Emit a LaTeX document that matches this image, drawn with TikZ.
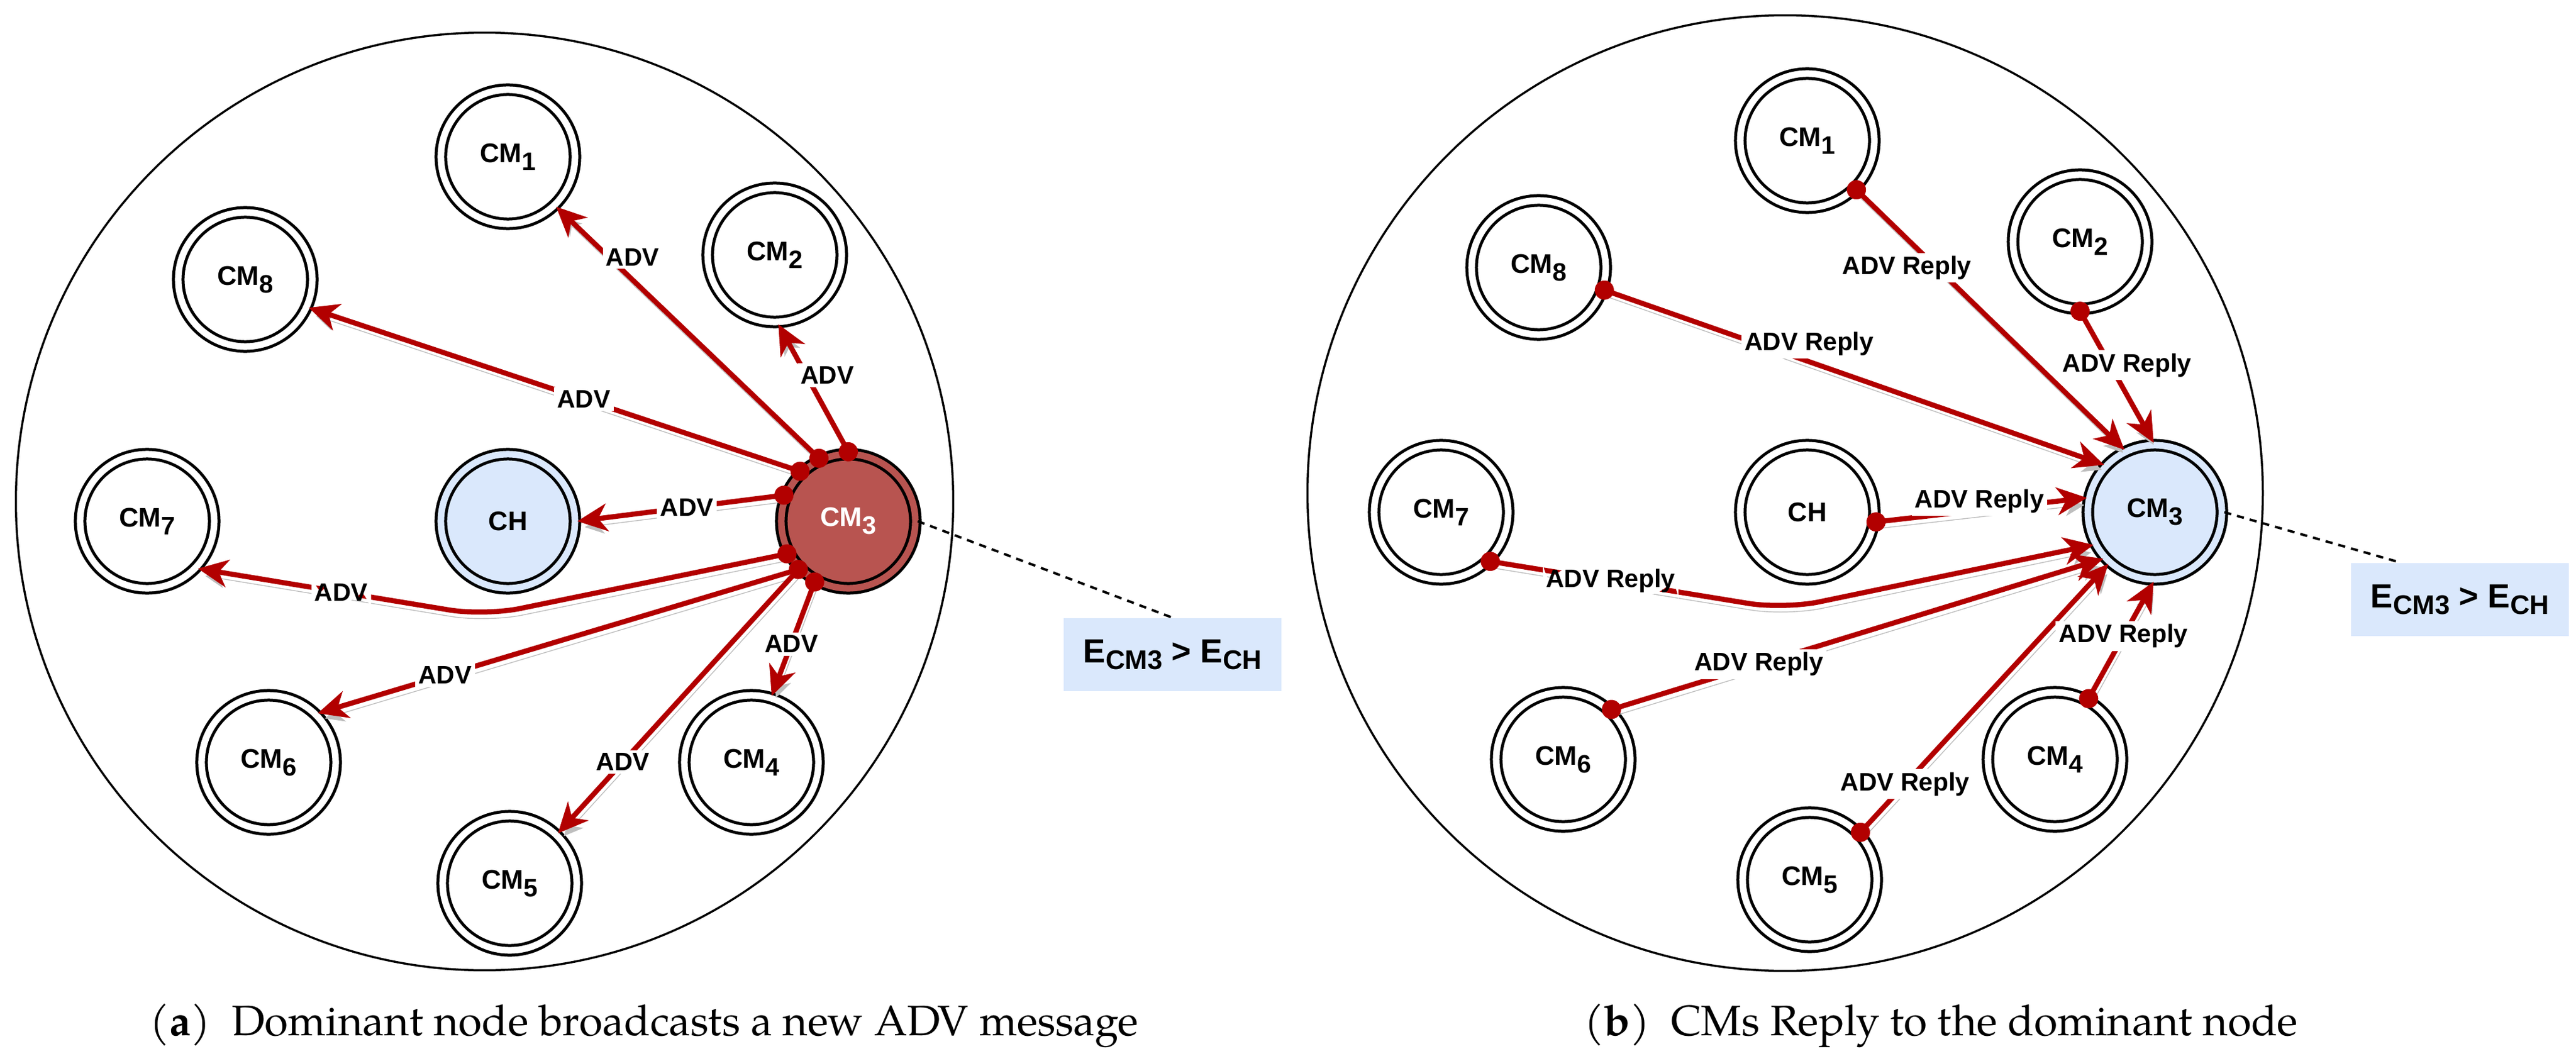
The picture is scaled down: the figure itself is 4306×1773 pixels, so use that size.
\documentclass[tikz,border=0pt]{standalone}
\usepackage{fontspec}
\newfontfamily\labelfont{Liberation Sans}
\newfontfamily\capfamily{TeX Gyre Pagella}
\usetikzlibrary{arrows.meta,calc}

\definecolor{advred}{HTML}{B20000}
\definecolor{headred}{HTML}{B85450}
\definecolor{chblue}{HTML}{DAE8FC}
\definecolor{shade}{HTML}{BEBEBE}

\newcommand{\capfont}{\capfamily\fontsize{20.3}{24}\selectfont}
\newcommand{\cmsub}[1]{CM\raisebox{-0.13cm}{\fontsize{12}{12}\selectfont #1}}
\newcommand{\esub}[1]{E\raisebox{-0.11cm}{\fontsize{12.8}{13}\selectfont #1}}

\tikzset{
  cmnode/.style={circle, draw=black, line width=0.05cm, double=white,
    double distance=0.11cm, minimum size=2.24cm, inner sep=0pt, outer sep=0.04cm,
    font=\labelfont\bfseries\fontsize{12.8}{14}\selectfont},
  chnode/.style={cmnode, fill=chblue, double=chblue},
  headnode/.style={cmnode, fill=headred, double=headred, text=white},
  cluster/.style={draw=black, line width=0.035cm},
  msg/.style={draw=advred, line width=0.085cm,
    -{Stealth[length=0.5cm,width=0.46cm,inset=0.15cm]},
    preaction={draw=shade, transform canvas={xshift=0.4mm,yshift=-1.1mm}}},
  lbl/.style={fill=white, inner sep=1.5pt,
    font=\labelfont\bfseries\fontsize{12}{14}\selectfont},
  ebox/.style={fill=chblue, minimum width=3.64cm, minimum height=1.22cm, inner sep=0pt,
    font=\labelfont\bfseries\fontsize{15.9}{18}\selectfont},
  link/.style={draw=black, line width=0.04cm, dash pattern=on 0.12cm off 0.1cm},
}

\begin{document}
\begin{tikzpicture}[x=0.01cm, y=-0.01cm]
   % Sizes
   \pgfmathsetmacro{\dotr}{0.16}
   \useasboundingbox (0,0) rectangle (4306,1773);

   % clusters
   \draw[cluster] (810,838) circle[radius=7.83cm];
   \draw[cluster] (2984,824) circle[radius=7.98cm];

   % vertices (a)
   \node[cmnode] (cm1a) at (849,262) {\cmsub{1}};
   \node[cmnode] (cm2a) at (1295,426) {\cmsub{2}};
   \node[cmnode] (cm8a) at (410,467) {\cmsub{8}};
   \node[cmnode] (cm7a) at (246,871) {\cmsub{7}};
   \node[chnode] (cha) at (849,871) {CH};
   \node[headnode] (cm3a) at (1418,871) {\cmsub{3}};
   \node[cmnode] (cm6a) at (449,1274) {\cmsub{6}};
   \node[cmnode] (cm4a) at (1256,1274) {\cmsub{4}};
   \node[cmnode] (cm5a) at (852,1476) {\cmsub{5}};
   \coordinate (bend7a) at (810,1029);

   % vertices (b)
   \node[cmnode] (cm1b) at (3021,235) {\cmsub{1}};
   \node[cmnode] (cm2b) at (3477,404) {\cmsub{2}};
   \node[cmnode] (cm8b) at (2572,447) {\cmsub{8}};
   \node[cmnode] (cm7b) at (2409,856) {\cmsub{7}};
   \node[cmnode] (chb) at (3021,856) {CH};
   \node[chnode] (cm3b) at (3602,856) {\cmsub{3}};
   \node[cmnode] (cm6b) at (2613,1269) {\cmsub{6}};
   \node[cmnode] (cm4b) at (3435,1269) {\cmsub{4}};
   \node[cmnode] (cm5b) at (3025,1470) {\cmsub{5}};
   \coordinate (bend7b) at (2982,1018);

   % energy boxes
   \node[ebox] (ea) at (1960,1094) {\esub{CM3} > \esub{CH}};
   \node[ebox] (eb) at (4112,1002) {\esub{CM3} > \esub{CH}};
   \draw[link] (cm3a.east) -- (ea.north);
   \draw[link] (cm3b.east) -- ($(eb.north west)!0.23!(eb.north east)$);

   % broadcast (a)
   \draw[msg] (cm3a.115) -- node[lbl,pos=.8,xshift=0.4cm]{ADV} (cm1a.314);
   \draw[msg] (cm3a.134) -- node[lbl,pos=.44]{ADV} (cm8a.336);
   \draw[msg] (cm3a.90) -- node[lbl,pos=.6,xshift=0.35cm]{ADV} (cm2a.273);
   \draw[msg] (cm3a.158) -- node[lbl,pos=.47]{ADV} (cha.0);
   \draw[msg, rounded corners=0.6cm] (cm3a.208) -- (bend7a)
     -- node[lbl,pos=.5]{ADV} (cm7a.317);
   \draw[msg] (cm3a.224) -- node[lbl,pos=.735]{ADV} (cm6a.45);
   \draw[msg] (cm3a.224) -- node[lbl,pos=.73]{ADV} (cm5a.46);
   \draw[msg] (cm3a.241) -- node[lbl,pos=.545]{ADV} (cm4a.73);
   \foreach \a in {90,115,134,158,208,224,241}
     \fill[advred] (cm3a.\a) circle[radius=\dotr cm];

   % replies (b)
   \draw[msg] (cm1b.315) -- node[lbl,pos=.3,xshift=-0.5cm]{ADV Reply} (cm3b.116);
   \draw[msg] (cm8b.341) -- node[lbl,pos=.41,yshift=0.3cm]{ADV Reply} (cm3b.137);
   \draw[msg] (cm2b.270) -- node[lbl,pos=.41,xshift=0.28cm]{ADV Reply} (cm3b.91);
   \draw[msg] (chb.352) -- node[lbl,pos=.49,yshift=0.15cm]{ADV Reply} (cm3b.168);
   \draw[msg, rounded corners=0.6cm] (cm7b.315) -- node[lbl,pos=.41]{ADV Reply} (bend7b)
     -- (cm3b.208);
   \draw[msg] (cm6b.46) -- node[lbl,pos=.3]{ADV Reply} (cm3b.222);
   \draw[msg] (cm5b.43) -- node[lbl,pos=.18]{ADV Reply} (cm3b.228);
   \draw[msg] (cm4b.61) -- node[lbl,pos=.535]{ADV Reply} (cm3b.269);
   \foreach \n/\a in {cm1b/315,cm8b/341,cm2b/270,chb/352,cm7b/315,cm6b/46,cm5b/43,cm4b/61}
     \fill[advred] (\n.\a) circle[radius=\dotr cm];

   % captions
   \node[anchor=base, font=\capfont] (capa) at (1077,1730)
     {(\textbf{a})\enspace Dominant node broadcasts a new ADV message};
   \node[anchor=base, font=\capfont] (capb) at (3245,1730)
     {(\textbf{b})\enspace CMs Reply to the dominant node};
\end{tikzpicture}
\end{document}
